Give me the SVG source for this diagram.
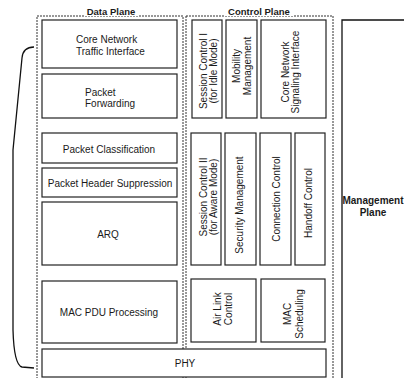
<svg xmlns="http://www.w3.org/2000/svg" width="404" height="378" viewBox="0 0 404 378">
<style>
text{font-family:"Liberation Sans",Arial,sans-serif;font-size:10px;fill:#1a1a1a}
.t{font-weight:bold;font-size:9.5px}
.m{font-weight:bold;font-size:10px}
.b{fill:#fff;stroke:#222;stroke-width:1.2}
.p{fill:none;stroke:#333;stroke-width:1;stroke-dasharray:2 1}
.c{text-anchor:middle}
.l{fill:none;stroke:#111;stroke-width:1.3}
</style>
<rect width="404" height="378" fill="#fff"/>
<g id="data-plane">
<rect class="p" x="37" y="16" width="146" height="364"/>
<rect x="84" y="6" width="54" height="10" fill="#fff"/>
<text class="t c" x="111" y="15">Data Plane</text>
</g>
<g id="control-plane">
<rect class="p" x="186" y="16" width="147" height="364"/>
<rect x="225" y="6" width="68" height="10" fill="#fff"/>
<text class="t c" x="259" y="15">Control Plane</text>
</g>
<g id="management-plane">
<path class="l" d="M342,378 V20 H404"/>
<text class="m c" x="373" y="204">Management</text>
<text class="m c" x="373" y="216">Plane</text>
</g>
<g id="connectors">
<path class="l" d="M34,47 Q23,47 22,58 L13,150 L13,330 Q14,365 22,367 L34,368"/>
</g>
<g id="core-network-traffic-interface">
<rect class="b" x="42" y="20" width="135" height="48"/>
<text x="76" y="43">Core Network</text>
<text x="76" y="55">Traffic Interface</text>
</g>
<g id="packet-forwarding">
<rect class="b" x="42" y="74" width="135" height="44"/>
<text x="85" y="96">Packet</text>
<text x="85" y="107">Forwarding</text>
</g>
<g id="packet-classification">
<rect class="b" x="42" y="133" width="135" height="30"/>
<text class="c" x="109" y="153">Packet Classification</text>
</g>
<g id="packet-header-suppression">
<rect class="b" x="42" y="168" width="135" height="29"/>
<text class="c" x="110" y="187">Packet Header Suppression</text>
</g>
<g id="arq">
<rect class="b" x="42" y="202" width="135" height="63"/>
<text class="c" x="108" y="238">ARQ</text>
</g>
<g id="mac-pdu-processing">
<rect class="b" x="42" y="281" width="135" height="62"/>
<text class="c" x="109" y="316">MAC PDU Processing</text>
</g>
<g id="phy">
<rect class="b" x="42" y="349" width="284" height="28"/>
<text class="c" x="185" y="367">PHY</text>
</g>
<g id="session-control-1">
<rect class="b" x="192" y="20" width="30" height="98"/>
<text class="c" transform="translate(207,71) rotate(-90)">Session Control I</text>
<text class="c" transform="translate(217,71) rotate(-90)">(for Idle Mode)</text>
</g>
<g id="mobility-management">
<rect class="b" x="226" y="20" width="31" height="98"/>
<text class="c" transform="translate(240,66) rotate(-90)">Mobility</text>
<text class="c" transform="translate(251,66) rotate(-90)">Management</text>
</g>
<g id="core-network-signaling-interface">
<rect class="b" x="261" y="20" width="65" height="98"/>
<text class="c" transform="translate(289,72) rotate(-90)">Core Network</text>
<text class="c" transform="translate(299,72) rotate(-90)">Signaling Interface</text>
</g>
<g id="session-control-2">
<rect class="b" x="191" y="133" width="30" height="132"/>
<text class="c" transform="translate(207,197) rotate(-90)">Session Control II</text>
<text class="c" transform="translate(217,197) rotate(-90)">(for Aware Mode)</text>
</g>
<g id="security-management">
<rect class="b" x="225" y="133" width="31" height="132"/>
<text class="c" transform="translate(243,205) rotate(-90)">Security Management</text>
</g>
<g id="connection-control">
<rect class="b" x="260" y="133" width="31" height="132"/>
<text class="c" transform="translate(280,199) rotate(-90)">Connection Control</text>
</g>
<g id="handoff-control">
<rect class="b" x="295" y="133" width="30" height="132"/>
<text class="c" transform="translate(312,203) rotate(-90)">Handoff Control</text>
</g>
<g id="air-link-control">
<rect class="b" x="191" y="279" width="65" height="63"/>
<text class="c" transform="translate(221,309) rotate(-90)">Air Link</text>
<text class="c" transform="translate(232,309) rotate(-90)">Control</text>
</g>
<g id="mac-scheduling">
<rect class="b" x="261" y="279" width="64" height="63"/>
<text class="c" transform="translate(291,314) rotate(-90)">MAC</text>
<text class="c" transform="translate(303,314) rotate(-90)">Scheduling</text>
</g>
</svg>
